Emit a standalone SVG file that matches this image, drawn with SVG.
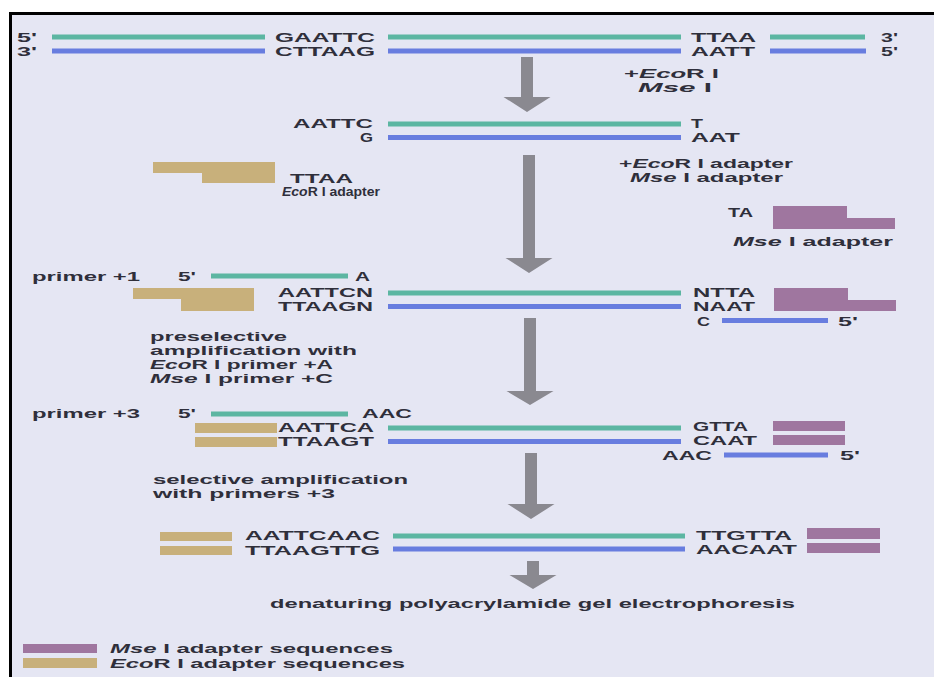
<svg xmlns="http://www.w3.org/2000/svg" width="934" height="677" viewBox="0 0 934 677">
<style>
.t{font-family:"Liberation Sans",Arial,Helvetica,sans-serif;font-weight:bold;font-size:13px;fill:#2f2f3b}
.s{font-size:12px}
.i{font-style:italic}
.tl{stroke:#5cb6a2;stroke-width:5}
.bl{stroke:#687ddf;stroke-width:5}
.tan{fill:#c8b07b}
.pur{fill:#9f769f}
.arr{fill:#8a8990}
</style>
<rect x="0" y="0" width="934" height="677" fill="#ffffff"/>
<rect x="9" y="12" width="925" height="665" fill="#e5e6f3"/>
<path d="M10.5,677 V13.5 H934" fill="none" stroke="#000" stroke-width="3"/>

<g id="connectors">
<polygon class="arr" points="521,57 533,57 533,97 550.5,97 527,112 503.5,97 521,97"/>
<polygon class="arr" points="523,155 535,155 535,258 552.5,258 529,273 505.5,258 523,258"/>
<polygon class="arr" points="524,318 536,318 536,391 553.5,391 530,405 506.5,391 524,391"/>
<polygon class="arr" points="525,453 537,453 537,504 554.5,504 531,519 507.5,504 525,504"/>
<polygon class="arr" points="527,561 539,561 539,575 556.5,575 533,589 509.5,575 527,575"/>
</g>

<g id="genomic-dna">
<line class="tl" x1="52" y1="37" x2="265" y2="37"/>
<line class="tl" x1="388" y1="37" x2="681" y2="37"/>
<line class="tl" x1="770" y1="37" x2="865" y2="37"/>
<line class="bl" x1="52" y1="51" x2="265" y2="51"/>
<line class="bl" x1="388" y1="51" x2="681" y2="51"/>
<line class="bl" x1="770" y1="51" x2="866" y2="51"/>
<text class="t" x="17" y="42" textLength="20" lengthAdjust="spacingAndGlyphs">5'</text>
<text class="t" x="17" y="56" textLength="20" lengthAdjust="spacingAndGlyphs">3'</text>
<text class="t" x="275" y="42" textLength="100" lengthAdjust="spacingAndGlyphs">GAATTC</text>
<text class="t" x="275" y="56" textLength="100" lengthAdjust="spacingAndGlyphs">CTTAAG</text>
<text class="t" x="691" y="42" textLength="65" lengthAdjust="spacingAndGlyphs">TTAA</text>
<text class="t" x="691" y="56" textLength="64" lengthAdjust="spacingAndGlyphs">AATT</text>
<text class="t" x="881" y="42" textLength="17" lengthAdjust="spacingAndGlyphs">3'</text>
<text class="t" x="881" y="56" textLength="17" lengthAdjust="spacingAndGlyphs">5'</text>
</g>

<g id="enzymes-label">
<text class="t" x="624" y="78" textLength="95" lengthAdjust="spacingAndGlyphs">+<tspan class="i">Eco</tspan>R I</text>
<text class="t" x="638" y="92" textLength="74" lengthAdjust="spacingAndGlyphs"><tspan class="i">Mse</tspan> I</text>
</g>

<g id="digested-fragment">
<line class="tl" x1="388" y1="124" x2="681" y2="124"/>
<line class="bl" x1="388" y1="137.5" x2="681" y2="137.5"/>
<text class="t" x="293" y="128" textLength="80" lengthAdjust="spacingAndGlyphs">AATTC</text>
<text class="t" x="360" y="142" textLength="13" lengthAdjust="spacingAndGlyphs">G</text>
<text class="t" x="691" y="128" textLength="12" lengthAdjust="spacingAndGlyphs">T</text>
<text class="t" x="691" y="142" textLength="49" lengthAdjust="spacingAndGlyphs">AAT</text>
</g>

<g id="adapters-label">
<text class="t" x="619" y="168" textLength="174" lengthAdjust="spacingAndGlyphs">+<tspan class="i">Eco</tspan>R I adapter</text>
<text class="t" x="630" y="182" textLength="153" lengthAdjust="spacingAndGlyphs"><tspan class="i">Mse</tspan> I adapter</text>
</g>

<g id="ecori-adapter">
<polygon class="tan" points="153,162 275,162 275,183 202,183 202,173 153,173"/>
<text class="t" x="290" y="183" textLength="63" lengthAdjust="spacingAndGlyphs">TTAA</text>
<text class="t" x="282" y="196" textLength="98" lengthAdjust="spacingAndGlyphs"><tspan class="i">Eco</tspan>R I adapter</text>
</g>

<g id="msei-adapter">
<polygon class="pur" points="773,206 847,206 847,218 895,218 895,229 773,229"/>
<text class="t" x="728" y="217" textLength="25" lengthAdjust="spacingAndGlyphs">TA</text>
<text class="t" x="733" y="246" textLength="160" lengthAdjust="spacingAndGlyphs"><tspan class="i">Mse</tspan> I adapter</text>
</g>

<g id="ligated-fragment">
<text class="t" x="32" y="281" textLength="108" lengthAdjust="spacingAndGlyphs">primer +1</text>
<text class="t" x="178" y="281" textLength="18" lengthAdjust="spacingAndGlyphs">5'</text>
<line class="tl" x1="211" y1="276" x2="348" y2="276"/>
<text class="t" x="355" y="281" textLength="15" lengthAdjust="spacingAndGlyphs">A</text>
<polygon class="tan" points="133,288 254,288 254,311 181,311 181,299 133,299"/>
<text class="t" x="278" y="297" textLength="95" lengthAdjust="spacingAndGlyphs">AATTCN</text>
<text class="t" x="278" y="311" textLength="95" lengthAdjust="spacingAndGlyphs">TTAAGN</text>
<line class="tl" x1="388" y1="293" x2="681" y2="293"/>
<line class="bl" x1="388" y1="306.5" x2="681" y2="306.5"/>
<text class="t" x="693" y="297" textLength="62" lengthAdjust="spacingAndGlyphs">NTTA</text>
<text class="t" x="693" y="311" textLength="62" lengthAdjust="spacingAndGlyphs">NAAT</text>
<polygon class="pur" points="774,288 848,288 848,300 896,300 896,311 774,311"/>
<text class="t" x="697" y="325.5" textLength="13" lengthAdjust="spacingAndGlyphs">C</text>
<line class="bl" x1="722" y1="320.5" x2="828" y2="320.5"/>
<text class="t" x="838" y="325.5" textLength="20" lengthAdjust="spacingAndGlyphs">5'</text>
</g>

<g id="preselective-label">
<text class="t s" x="150" y="341" textLength="137" lengthAdjust="spacingAndGlyphs">preselective</text>
<text class="t s" x="150" y="355" textLength="207" lengthAdjust="spacingAndGlyphs">amplification with</text>
<text class="t s" x="150" y="369" textLength="183" lengthAdjust="spacingAndGlyphs"><tspan class="i">Eco</tspan>R I primer +A</text>
<text class="t s" x="150" y="383" textLength="183" lengthAdjust="spacingAndGlyphs"><tspan class="i">Mse</tspan> I primer +C</text>
</g>

<g id="preamplified-fragment">
<text class="t" x="32" y="418" textLength="108" lengthAdjust="spacingAndGlyphs">primer +3</text>
<text class="t" x="178" y="418" textLength="18" lengthAdjust="spacingAndGlyphs">5'</text>
<line class="tl" x1="211" y1="414" x2="348" y2="414"/>
<text class="t" x="362" y="418" textLength="50" lengthAdjust="spacingAndGlyphs">AAC</text>
<rect class="tan" x="195" y="423" width="82" height="10"/>
<rect class="tan" x="195" y="437" width="82" height="10"/>
<text class="t" x="278" y="432" textLength="96" lengthAdjust="spacingAndGlyphs">AATTCA</text>
<text class="t" x="278" y="446" textLength="96" lengthAdjust="spacingAndGlyphs">TTAAGT</text>
<line class="tl" x1="388" y1="428" x2="681" y2="428"/>
<line class="bl" x1="388" y1="441.5" x2="681" y2="441.5"/>
<text class="t" x="693" y="431" textLength="55" lengthAdjust="spacingAndGlyphs">GTTA</text>
<text class="t" x="693" y="445" textLength="64" lengthAdjust="spacingAndGlyphs">CAAT</text>
<rect class="pur" x="773" y="421" width="72" height="10"/>
<rect class="pur" x="773" y="435" width="72" height="10"/>
<text class="t" x="662" y="460" textLength="50" lengthAdjust="spacingAndGlyphs">AAC</text>
<line class="bl" x1="724" y1="455" x2="828" y2="455"/>
<text class="t" x="840" y="460" textLength="20" lengthAdjust="spacingAndGlyphs">5'</text>
</g>

<g id="selective-label">
<text class="t s" x="153" y="484" textLength="255" lengthAdjust="spacingAndGlyphs">selective amplification</text>
<text class="t s" x="153" y="498" textLength="182" lengthAdjust="spacingAndGlyphs">with primers +3</text>
</g>

<g id="selected-fragment">
<rect class="tan" x="160" y="532" width="72" height="9"/>
<rect class="tan" x="160" y="546" width="72" height="9"/>
<text class="t" x="245" y="540" textLength="135" lengthAdjust="spacingAndGlyphs">AATTCAAC</text>
<text class="t" x="245" y="554.5" textLength="135" lengthAdjust="spacingAndGlyphs">TTAAGTTG</text>
<line class="tl" x1="393" y1="536" x2="685" y2="536"/>
<line class="bl" x1="393" y1="549" x2="685" y2="549"/>
<text class="t" x="696" y="539.5" textLength="96" lengthAdjust="spacingAndGlyphs">TTGTTA</text>
<text class="t" x="696" y="554" textLength="101" lengthAdjust="spacingAndGlyphs">AACAAT</text>
<rect class="pur" x="807" y="528" width="73" height="11"/>
<rect class="pur" x="807" y="543" width="73" height="10"/>
</g>

<g id="gel-label">
<text class="t" x="270" y="608" textLength="525" lengthAdjust="spacingAndGlyphs">denaturing polyacrylamide gel electrophoresis</text>
</g>

<g id="legend">
<rect class="pur" x="23" y="644" width="74" height="9"/>
<text class="t" x="110" y="653" textLength="283" lengthAdjust="spacingAndGlyphs"><tspan class="i">Mse</tspan> I adapter sequences</text>
<rect class="tan" x="23" y="658" width="74" height="10"/>
<text class="t" x="110" y="668" textLength="295" lengthAdjust="spacingAndGlyphs"><tspan class="i">Eco</tspan>R I adapter sequences</text>
</g>
</svg>
